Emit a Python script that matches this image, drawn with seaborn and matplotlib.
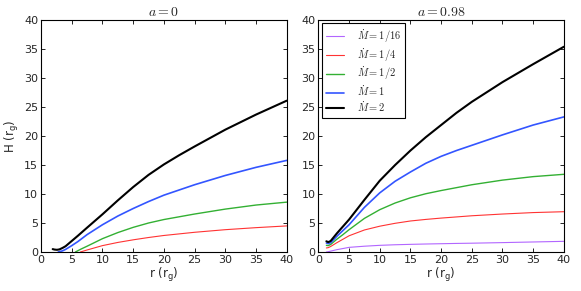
import numpy as np
import pandas as pd
import seaborn as sns
import matplotlib
matplotlib.use('Agg')
import matplotlib.pyplot as plt

sns.set_style('ticks')
plt.rcParams['font.family'] = ['DejaVu Sans']
plt.rcParams['mathtext.fontset'] = 'cm'

# a = 0 panel
r0_black = [1.9, 2.2, 2.6, 3.0, 3.5, 4.0, 5.0, 6.0, 7.5, 10, 12.5, 15, 17.5, 20, 22.5, 25, 30, 35, 40]
h0_black = [0.5, 0.42, 0.38, 0.45, 0.7, 1.0, 1.9, 2.8, 4.2, 6.5, 8.9, 11.2, 13.3, 15.1, 16.7, 18.2, 21.1, 23.7, 26.1]
r0_blue = [2.8, 3.5, 4.0, 5, 6, 7.5, 10, 12.5, 15, 17.5, 20, 25, 30, 35, 40]
h0_blue = [0.0, 0.2, 0.45, 1.1, 1.8, 3.0, 4.7, 6.2, 7.5, 8.7, 9.8, 11.6, 13.2, 14.6, 15.8]
r0_green = [5.6, 6.5, 7.5, 10, 12.5, 15, 17.5, 20, 25, 30, 35, 40]
h0_green = [0.0, 0.5, 1.0, 2.3, 3.35, 4.25, 5.0, 5.6, 6.55, 7.4, 8.1, 8.6]
r0_red = [6.4, 7.5, 10, 12.5, 15, 17.5, 20, 25, 30, 35, 40]
h0_red = [0.0, 0.35, 1.1, 1.65, 2.1, 2.5, 2.85, 3.4, 3.85, 4.2, 4.5]

# a = 0.98 panel
r1 = [1.3, 1.6, 2.0, 3.0, 4.0, 5.0, 7.5, 10, 12.5, 15, 17.5, 20, 22.5, 25, 30, 35, 40]
h1_black = [1.85, 1.7, 1.9, 3.2, 4.4, 5.6, 9.0, 12.3, 15.0, 17.5, 19.8, 21.9, 24.0, 25.9, 29.3, 32.4, 35.4]
h1_blue = [1.55, 1.45, 1.6, 2.7, 3.7, 4.7, 7.7, 10.2, 12.2, 13.8, 15.3, 16.5, 17.5, 18.4, 20.2, 21.9, 23.3]
h1_green = [1.15, 1.1, 1.3, 2.2, 3.0, 3.85, 5.8, 7.3, 8.45, 9.35, 10.05, 10.6, 11.1, 11.6, 12.4, 13.0, 13.4]
h1_red = [0.7, 0.75, 0.95, 1.6, 2.2, 2.8, 3.8, 4.45, 4.95, 5.35, 5.62, 5.85, 6.05, 6.25, 6.55, 6.8, 6.95]
h1_purple = [0.0, 0.05, 0.15, 0.4, 0.6, 0.8, 1.0, 1.15, 1.25, 1.32, 1.38, 1.43, 1.48, 1.52, 1.62, 1.73, 1.84]

labels = [r'$\dot{M}=1/16$', r'$\dot{M}=1/4$', r'$\dot{M}=1/2$', r'$\dot{M}=1$', r'$\dot{M}=2$']
colors = ['#b266ff', '#ff3333', '#33b033', '#3355ff', 'black']
widths = [0.8, 0.8, 1.0, 1.2, 1.5]

panel0 = [None, (r0_red, h0_red), (r0_green, h0_green), (r0_blue, h0_blue), (r0_black, h0_black)]
panel1 = [(r1, h1_purple), (r1, h1_red), (r1, h1_green), (r1, h1_blue), (r1, h1_black)]

fig = plt.figure(figsize=(5.81, 2.91), dpi=100)
ax0 = fig.add_axes([0.0706, 0.134, 0.4229, 0.797])
ax1 = fig.add_axes([0.548, 0.134, 0.4225, 0.797])

for ax, panel, title in [(ax0, panel0, r'$a=0$'), (ax1, panel1, r'$a=0.98$')]:
    for series, lab, c, lw in zip(panel, labels, colors, widths):
        if series is None:
            continue
        df = pd.DataFrame({'r': series[0], 'H': series[1]})
        sns.lineplot(data=df, x='r', y='H', ax=ax, color=c, lw=lw, label=lab)
    ax.set_xlim(0, 40)
    ax.set_ylim(0, 40)
    ax.set_xticks(np.arange(0, 41, 5))
    ax.set_yticks(np.arange(0, 41, 5))
    ax.tick_params(direction='in', top=True, right=True, length=3, width=0.6,
                   labelsize=8, pad=2, color='black')
    for s in ax.spines.values():
        s.set_color('black')
        s.set_linewidth(0.8)
    ax.set_title(title, fontsize=10, pad=3)
    ax.set_xlabel(r'r $\mathregular{(r_g)}$', fontsize=8.5, labelpad=1)
    ax.set_ylabel('')

ax0.set_ylabel(r'H $\mathregular{(r_g)}$', fontsize=8.5, labelpad=2)
ax0.get_legend().remove()
leg = ax1.legend(loc='upper left', fontsize=7.5, frameon=True, fancybox=False,
                 edgecolor='black', framealpha=1, handlelength=1.8,
                 borderaxespad=0.3, labelspacing=0.12, handletextpad=1.2)
leg.get_frame().set_linewidth(0.8)

fig.savefig('out.png', dpi=100)
